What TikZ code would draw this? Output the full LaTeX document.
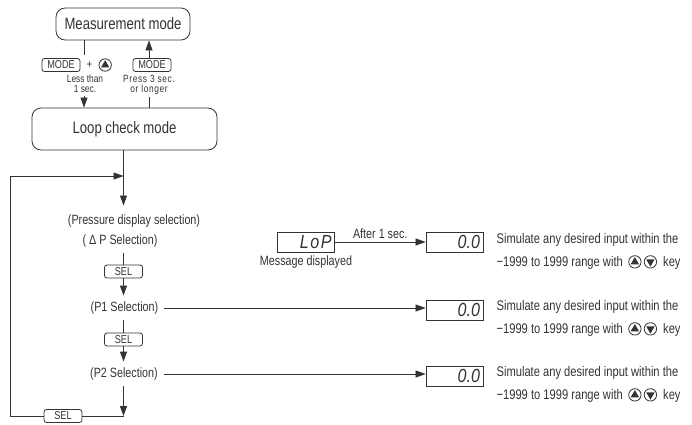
\documentclass[tikz,border=0pt]{standalone}
\usepackage{fontspec}
\setmainfont{Liberation Sans}[FakeStretch=0.8]
\newfontfamily\spacedfont{Liberation Sans}[FakeStretch=0.8, LetterSpace=6]
\newfontfamily\lcdfont{Liberation Sans}[FakeStretch=0.85]
\usetikzlibrary{arrows.meta, positioning}
\definecolor{ink}{HTML}{333333}
\newcommand{\upkey}{\tikz[baseline=-4.2bp]{\draw[line width=0.8bp] (0bp,0bp) circle (6.2bp); \fill (90:4.8bp) -- (210:4.8bp) -- (330:4.8bp) -- cycle;}}
\newcommand{\downkey}{\tikz[baseline=-4.2bp]{\draw[line width=0.8bp] (0bp,0bp) circle (6.2bp); \fill (270:4.8bp) -- (30:4.8bp) -- (150:4.8bp) -- cycle;}}

\begin{document}
\begin{tikzpicture}[
    x=1bp, y=-1bp, color=ink,
    link/.style={line width=0.7bp},
    thickline/.style={line width=1.2bp},
    arrow/.style={-{Triangle[length=10bp, width=7bp]}, line width=0.7bp},
    modebox/.style={rectangle, rounded corners=9bp, draw, line width=0.8bp, inner sep=0pt, font=\fontsize{16.5}{18}\selectfont},
    keycap/.style={rectangle, rounded corners=2.5bp, draw, line width=0.8bp, minimum width=38bp, minimum height=13bp, inner sep=0pt, font=\fontsize{11.5}{12}\selectfont},
    lcd/.style={rectangle, draw, line width=0.8bp, minimum width=57bp, minimum height=20bp, inner sep=0pt, text width=51bp, align=right, font=\lcdfont\itshape\fontsize{19}{19}\selectfont},
    hint/.style={inner sep=0pt, align=center, font=\fontsize{10.5}{10.5}\selectfont},
    choice/.style={inner sep=6bp, font=\fontsize{13.5}{14}\selectfont},
    sim/.style={inner sep=0pt, align=left, font=\fontsize{14}{23}\selectfont}
]
\useasboundingbox (0,0) rectangle (692,424);

% Modes
\node[modebox, minimum width=134bp, minimum height=32bp] (meas) at (123,24) {Measurement mode};
\node[modebox, minimum width=185bp, minimum height=42bp] (loop) at (124.5,129) {Loop check mode};

% Keys between the two modes
\node[keycap] (modeL) at (61,65) {MODE};
\node[inner sep=0pt, font=\fontsize{12}{12}\selectfont, right=6bp of modeL] (plus) {+};
\node[inner sep=0pt, right=6bp of plus] (upL) {\upkey};
\node[hint] (lessL) at (85,84) {Less than\\1 sec.};

\node[keycap] (modeR) at (152,65) {MODE};
\node[hint, font=\spacedfont\fontsize{10.5}{10.5}\selectfont] (pressR) at (149,85) {Press 3 sec.\\or longer};

\coordinate (lefttop) at (84,55);
\coordinate (leftbot) at (84,96);
\coordinate (rightbot) at (149,97);

\draw[link] (meas.south -| lefttop) -- (lefttop);
\draw[arrow] (leftbot) -- (loop.north -| leftbot);
\draw[link] (loop.north -| rightbot) -- (rightbot);
\draw[arrow] (modeR.north -| rightbot) -- (meas.south -| rightbot);

% Selection column
\coordinate (join) at (123.5,176);
\node[choice, inner ysep=9bp] (pdisp) at (134,221) {(Pressure display selection)};
\node[choice] (dp) at (120,241) {( Δ P Selection)};
\node[keycap] (sel1) at (123.5,271.5) {SEL};
\node[choice] (p1) at (124.5,308) {(P1 Selection)};
\node[keycap] (sel2) at (123.5,339.5) {SEL};
\node[choice] (p2) at (124,374) {(P2 Selection)};

\coordinate (corner) at (123.5,416);
\node[keycap] (selback) at (63,416) {SEL};
\coordinate (backcorner) at (10,416);

\draw[arrow] (loop.south -| join) -- (pdisp.north -| join);
\draw[thickline] (dp.south -| sel1) -- (sel1.north);
\draw[arrow, thickline] (sel1.south) -- (p1.north -| sel1);
\draw[thickline] (p1.south -| sel2) -- (sel2.north);
\draw[arrow, thickline] (sel2.south) -- (p2.north -| sel2);
\draw[arrow, thickline] (p2.south -| corner) -- (corner);

% Back to the top of the column
\draw[link] (corner) -- (selback.east);
\draw[arrow] (selback.west) -- (backcorner) |- (join);

% Displays
\node[lcd] (lop) at (306,242) {\addfontfeature{LetterSpace=8}LoP};
\node[choice, inner sep=0pt, below=3bp of lop] (msg) {Message displayed};
\node[lcd] (lcd0) at (454.5,242) {0.0};
\node[lcd] (lcd1) at (454.5,310) {0.0};
\node[lcd] (lcd2) at (454.5,376) {0.0};

\draw[arrow] (lop.east) -- node[choice, inner sep=0pt, above=3bp] (after) {After 1 sec.} (lcd0.west);
\draw[arrow] (p1.east) -- (p1.east -| lcd1.west);
\draw[arrow] (p2.east) -- (p2.east -| lcd2.west);

% Notes
\node[sim, right=13bp of lcd0, yshift=-9bp] (sim0) {Simulate any desired input within the\\−1999 to 1999 range with \,\upkey\,\downkey\ \ key};
\node[sim, right=13bp of lcd1, yshift=-8bp] (sim1) {Simulate any desired input within the\\−1999 to 1999 range with \,\upkey\,\downkey\ \ key};
\node[sim, right=13bp of lcd2, yshift=-8bp] (sim2) {Simulate any desired input within the\\−1999 to 1999 range with \,\upkey\,\downkey\ \ key};

\end{tikzpicture}
\end{document}
